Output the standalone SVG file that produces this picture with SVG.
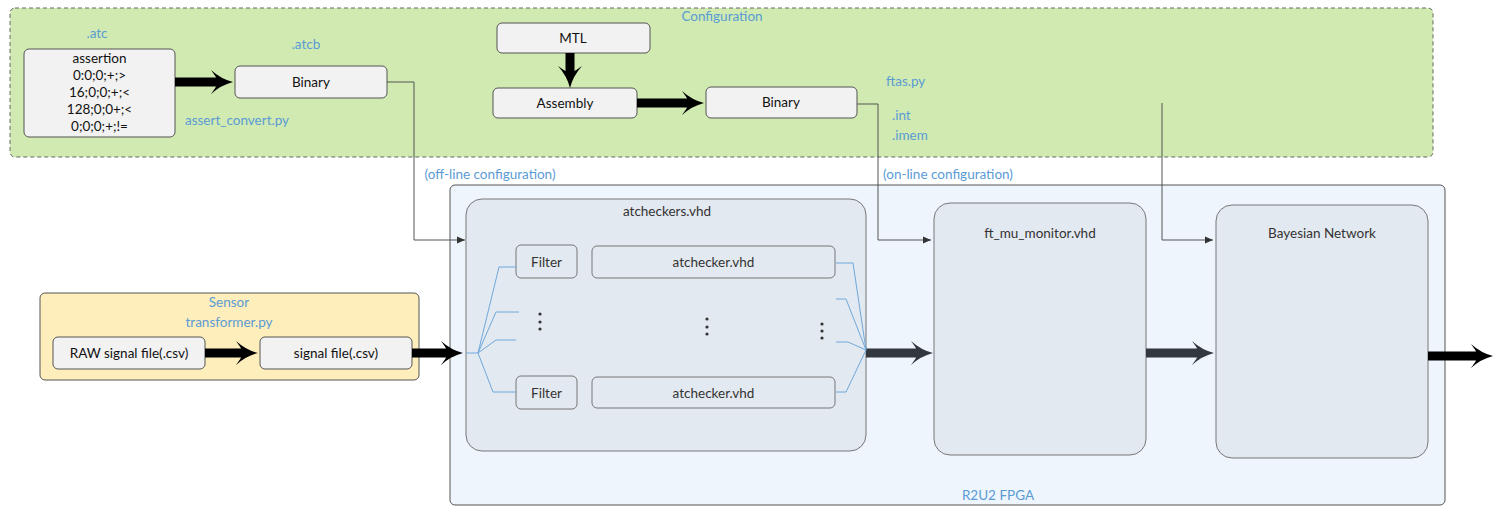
<svg xmlns="http://www.w3.org/2000/svg" width="1500" height="516" viewBox="0 0 1500 516">
<style>
text{font-family:Lato,"Open Sans","Liberation Sans",sans-serif;font-size:13.5px;dominant-baseline:central}
.c{text-anchor:middle}
.lbl{fill:#5b9bd5}
.nt{fill:#111}
.gt{fill:#333}
.node{fill:#f2f2f2;stroke:#555;stroke-width:1}
.inner{fill:#e3e9f0;stroke:#777;stroke-width:1}
.blue{fill:none;stroke:#6fa8dc;stroke-width:1}
.thin{fill:none;stroke:#555;stroke-width:1;marker-end:url(#sm)}
.fat{stroke:#000;stroke-width:9;marker-end:url(#big)}
.fatd{stroke:#32383e;stroke-width:9;marker-end:url(#bigd)}
.dot{fill:#333}
</style>
<defs>
<marker id="big" markerUnits="userSpaceOnUse" viewBox="0 -13 24 26" markerWidth="24" markerHeight="26" refX="7" refY="0" orient="auto">
<path d="M22,0 Q10,-3 0,-12 Q5,-6 7,0 Q5,6 0,12 Q10,3 22,0 Z" fill="#000"/>
</marker>
<marker id="bigd" markerUnits="userSpaceOnUse" viewBox="0 -13 24 26" markerWidth="24" markerHeight="26" refX="7" refY="0" orient="auto">
<path d="M22,0 Q10,-3 0,-12 Q5,-6 7,0 Q5,6 0,12 Q10,3 22,0 Z" fill="#32383e"/>
</marker>
<marker id="sm" markerUnits="userSpaceOnUse" viewBox="0 -4 8 8" markerWidth="8" markerHeight="8" refX="8" refY="0" orient="auto">
<path d="M0,-3.5 L8,0 L0,3.5 Z" fill="#333"/>
</marker>
</defs>

<g id="configuration">
<rect x="10" y="8" width="1423" height="149" rx="5" fill="#d0eab1" stroke="#666" stroke-dasharray="4 3"/>
<text class="c lbl" x="722" y="16">Configuration</text>
<text class="c lbl" x="97" y="33">.atc</text>
<text class="c lbl" x="306" y="44">.atcb</text>
<text class="c lbl" x="237" y="120">assert_convert.py</text>
<text class="lbl" x="886" y="81">ftas.py</text>
<text class="lbl" x="892" y="115">.int</text>
<text class="lbl" x="892" y="135">.imem</text>
</g>

<g id="assertion">
<rect class="node" x="24" y="49" width="151" height="88" rx="5"/>
<text class="c nt" x="99.5" y="58">assertion</text>
<text class="c nt" x="99.5" y="75">0:0;0;+;&gt;</text>
<text class="c nt" x="99.5" y="92">16;0;0;+;&lt;</text>
<text class="c nt" x="99.5" y="109">128;0;0+;&lt;</text>
<text class="c nt" x="99.5" y="126">0;0;0;+;!=</text>
</g>

<g id="binary1">
<rect class="node" x="235" y="66" width="152" height="32" rx="5"/>
<text class="c nt" x="311" y="82">Binary</text>
</g>

<g id="mtl">
<rect class="node" x="497" y="23" width="153" height="30" rx="5"/>
<text class="c nt" x="573" y="38">MTL</text>
</g>

<g id="assembly">
<rect class="node" x="493" y="88" width="144" height="30" rx="5"/>
<text class="c nt" x="565" y="103">Assembly</text>
</g>

<g id="binary2">
<rect class="node" x="706" y="87" width="151" height="31" rx="5"/>
<text class="c nt" x="781" y="102">Binary</text>
</g>

<g id="fpga">
<rect x="450" y="185" width="995" height="320" rx="5" fill="#eef5fc" stroke="#555"/>
<text class="c lbl" x="998" y="495">R2U2 FPGA</text>
<text class="c lbl" x="490" y="174">(off-line configuration)</text>
<text class="c lbl" x="948" y="174">(on-line configuration)</text>
</g>

<g id="atcheckers">
<rect class="inner" x="466" y="199" width="400" height="252" rx="16"/>
<text class="c gt" x="667" y="211">atcheckers.vhd</text>
</g>

<g id="filter1">
<rect class="inner" x="516" y="245" width="61" height="33" rx="5"/>
<text class="c gt" x="546.5" y="261.5">Filter</text>
</g>
<g id="filter2">
<rect class="inner" x="516" y="376" width="61" height="33" rx="5"/>
<text class="c gt" x="546.5" y="392.5">Filter</text>
</g>
<g id="atchecker1">
<rect class="inner" x="592" y="246" width="243" height="32" rx="5"/>
<text class="c gt" x="713.5" y="262">atchecker.vhd</text>
</g>
<g id="atchecker2">
<rect class="inner" x="592" y="377" width="243" height="31" rx="5"/>
<text class="c gt" x="713.5" y="392.5">atchecker.vhd</text>
</g>

<g id="ellipses">
<circle class="dot" cx="540" cy="314" r="1.6"/><circle class="dot" cx="540" cy="322" r="1.6"/><circle class="dot" cx="540" cy="329" r="1.6"/>
<circle class="dot" cx="707" cy="319" r="1.6"/><circle class="dot" cx="707" cy="327" r="1.6"/><circle class="dot" cx="707" cy="334" r="1.6"/>
<circle class="dot" cx="822" cy="324" r="1.6"/><circle class="dot" cx="822" cy="331" r="1.6"/><circle class="dot" cx="822" cy="338" r="1.6"/>
</g>

<g id="ftmu">
<rect class="inner" x="934" y="203" width="212" height="252" rx="16"/>
<text class="c gt" x="1040" y="233">ft_mu_monitor.vhd</text>
</g>

<g id="bayesian">
<rect class="inner" x="1216" y="205" width="212" height="253" rx="16"/>
<text class="c gt" x="1322" y="233">Bayesian Network</text>
</g>

<g id="sensor">
<rect x="40" y="293" width="379" height="87" rx="5" fill="#fdeebb" stroke="#555"/>
<text class="c lbl" x="229" y="302">Sensor</text>
<text class="c lbl" x="229" y="322">transformer.py</text>
</g>
<g id="raw">
<rect class="node" x="53" y="337" width="152" height="32" rx="5"/>
<text class="c nt" x="129" y="353">RAW signal file(.csv)</text>
</g>
<g id="signal">
<rect class="node" x="260" y="337" width="152" height="32" rx="5"/>
<text class="c nt" x="336" y="353">signal file(.csv)</text>
</g>

<g id="connectors">
<line class="fat" x1="175" y1="82" x2="218" y2="82"/>
<line class="fat" x1="570" y1="53" x2="570" y2="73"/>
<line class="fat" x1="637" y1="103" x2="689" y2="103"/>
<line class="fat" x1="205" y1="353" x2="243" y2="353"/>
<line class="fat" x1="412" y1="353" x2="448" y2="353"/>
<line class="fatd" x1="866" y1="353" x2="918" y2="353"/>
<line class="fatd" x1="1146" y1="353" x2="1199" y2="353"/>
<line class="fat" x1="1428" y1="356" x2="1478" y2="356"/>
<polyline class="thin" points="387,82 414,82 414,240 465,240"/>
<polyline class="thin" points="857,104 878,104 878,240 931,240"/>
<polyline class="thin" points="1162,103 1162,240 1213,240"/>
<polyline class="blue" points="466,353 478,353"/>
<polyline class="blue" points="478,353 499,267 516,267"/>
<polyline class="blue" points="478,353 496,312 519,312"/>
<polyline class="blue" points="478,353 496,340 516,340"/>
<polyline class="blue" points="478,353 493,392 516,392"/>
<polyline class="blue" points="836,263 853,263 866,350"/>
<polyline class="blue" points="836,299 846,299 866,350"/>
<polyline class="blue" points="836,342 848,342 866,350"/>
<polyline class="blue" points="836,392 846,392 866,350"/>
</g>
</svg>
